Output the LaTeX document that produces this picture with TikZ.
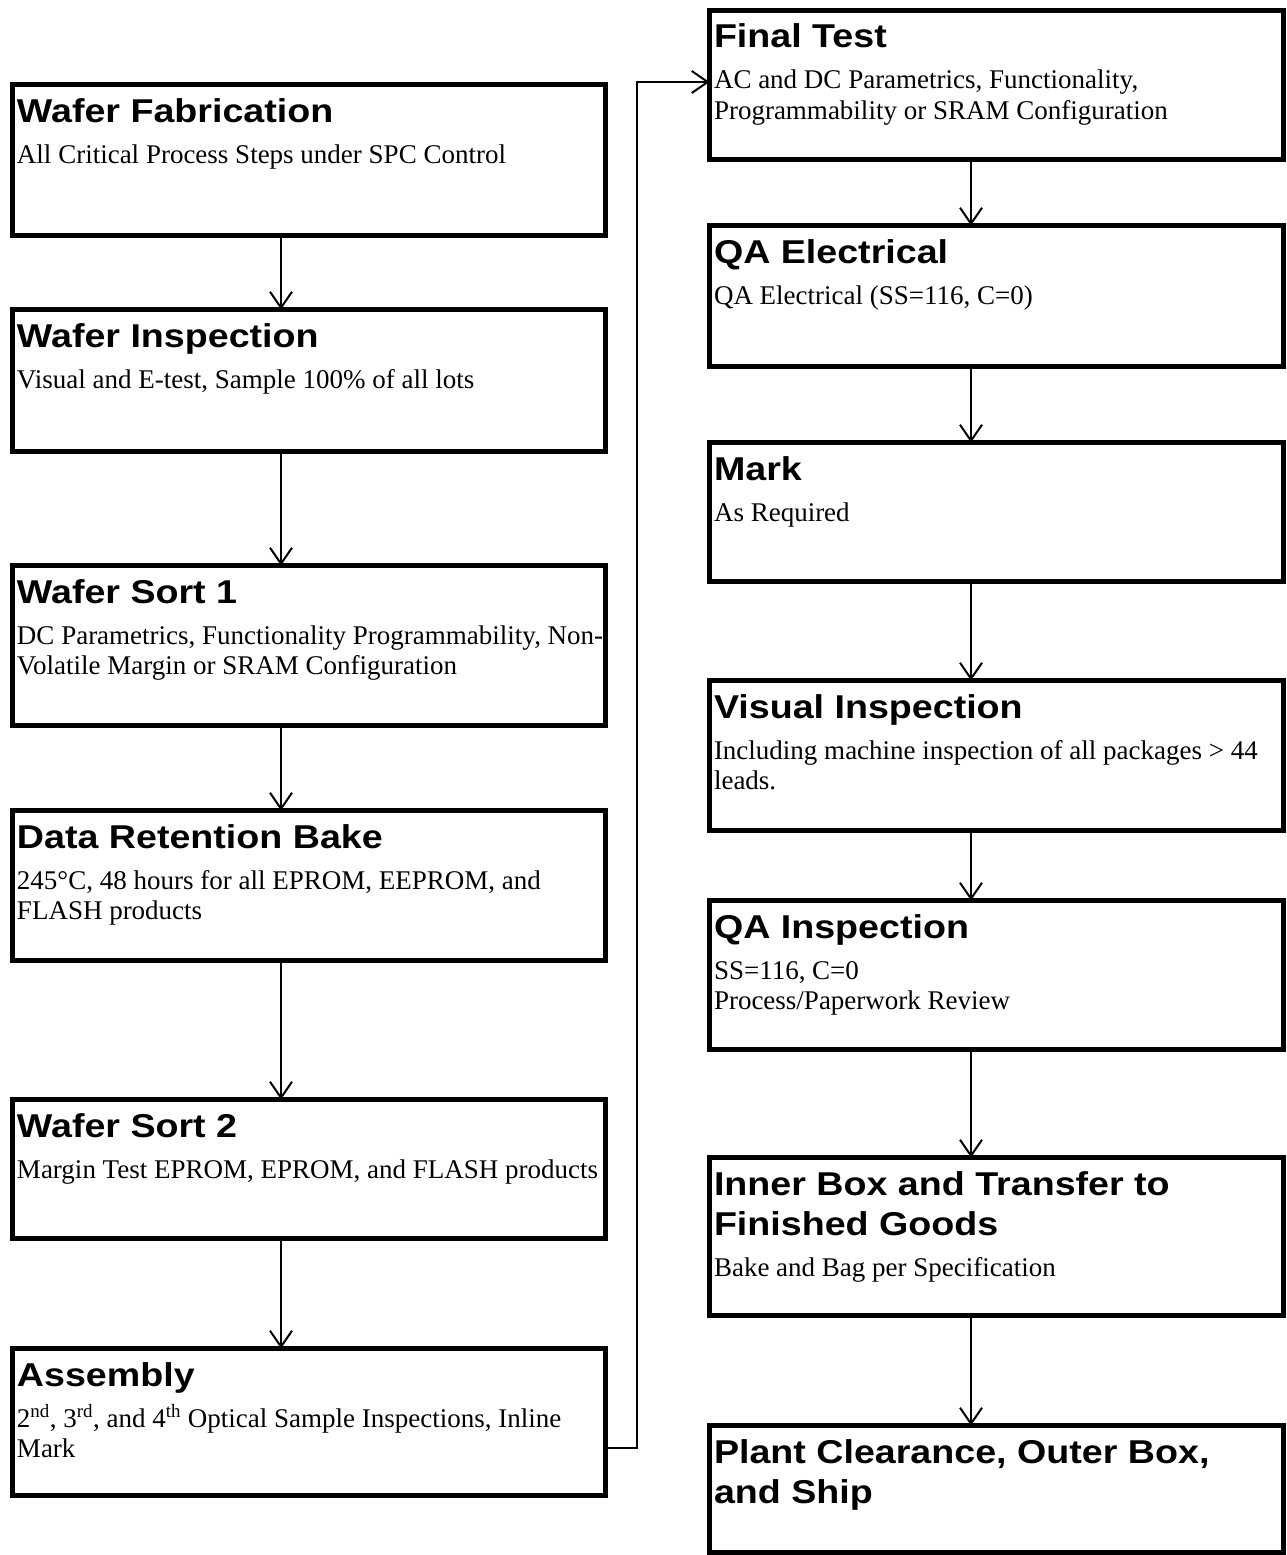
\documentclass[tikz,border=0pt]{standalone}
\usepackage{fontspec}
\setmainfont{Liberation Serif}
\newfontfamily\headfont{Liberation Sans}[FakeStretch=1.14]
\usetikzlibrary{arrows.meta}

\tikzset{
  boxst/.style={draw, line width=5pt, inner sep=0pt, outer sep=0pt, anchor=north west},
  arr/.style={line width=2pt, -{Straight Barb[length=16pt,width=22pt]}}
}

% name, x, y, w, h, heading, body
\newcommand\flowbox[7]{%
  \node[boxst] (#1) at (#2+2.5,#3+2.5) {\parbox[t][\dimexpr#5pt-5pt\relax][t]{\dimexpr#4pt-5pt\relax}{%
    \setlength{\parindent}{0pt}\setlength{\leftskip}{4.5pt}%
    {\headfont\bfseries\fontsize{33pt}{40pt}\selectfont\rule{0pt}{37.5pt}#6\par}%
    \vspace{10.5pt}%
    {\fontsize{27pt}{30.5pt}\selectfont #7\par}}};
}

\begin{document}
\begin{tikzpicture}[x=1pt,y=-1pt]
\fill[white] (0,0) rectangle (1287,1555);
\useasboundingbox (0,0) rectangle (1287,1555);

% left column
\flowbox{wf}{10}{82}{598}{156}{Wafer Fabrication}{\mbox{All Critical Process Steps under SPC Control}}
\flowbox{wi}{10}{307}{598}{147}{Wafer Inspection}{\mbox{Visual and E-test, Sample 100\% of all lots}}
\flowbox{wsa}{10}{563}{598}{165}{Wafer Sort 1}{\mbox{DC Parametrics, Functionality Programmability, Non-}\\\mbox{Volatile Margin or SRAM Configuration}}
\flowbox{drb}{10}{808}{598}{155}{Data Retention Bake}{\mbox{245°C, 48 hours for all EPROM, EEPROM, and}\\\mbox{FLASH products}}
\flowbox{wsb}{10}{1097}{598}{144}{Wafer Sort 2}{\mbox{Margin Test EPROM, EPROM, and FLASH products}}
\flowbox{asm}{10}{1346}{598}{152}{Assembly}{\mbox{2\textsuperscript{nd}, 3\textsuperscript{rd}, and 4\textsuperscript{th} Optical Sample Inspections, Inline}\\\mbox{Mark}}

% right column
\flowbox{ft}{707}{8}{579}{154}{Final Test}{\mbox{AC and DC Parametrics, Functionality,}\\\mbox{Programmability or SRAM Configuration}}
\flowbox{qae}{707}{223}{579}{146}{QA Electrical}{\mbox{QA Electrical (SS=116, C=0)}}
\flowbox{mark}{707}{440}{579}{144}{Mark}{\mbox{As Required}}
\flowbox{vi}{707}{678}{579}{155}{Visual Inspection}{\mbox{Including machine inspection of all packages > 44}\\\mbox{leads.}}
\flowbox{qai}{707}{898}{579}{154}{QA Inspection}{\mbox{SS=116, C=0}\\\mbox{Process/Paperwork Review}}
\flowbox{ib}{707}{1155}{579}{163}{Inner Box and Transfer to\\Finished Goods}{\mbox{Bake and Bag per Specification}}
\flowbox{pc}{707}{1423}{579}{132}{Plant Clearance, Outer Box,\\and Ship}{}

\coordinate (lx) at (281,0);
\coordinate (rx) at (971,0);
\coordinate (cx) at (637,0);
\coordinate (cy1) at (0,1448);
\coordinate (cy2) at (0,82);

\draw[arr] (wf.south -| lx) -- (wi.north -| lx);
\draw[arr] (wi.south -| lx) -- (wsa.north -| lx);
\draw[arr] (wsa.south -| lx) -- (drb.north -| lx);
\draw[arr] (drb.south -| lx) -- (wsb.north -| lx);
\draw[arr] (wsb.south -| lx) -- (asm.north -| lx);

\draw[arr] (ft.south -| rx) -- (qae.north -| rx);
\draw[arr] (qae.south -| rx) -- (mark.north -| rx);
\draw[arr] (mark.south -| rx) -- (vi.north -| rx);
\draw[arr] (vi.south -| rx) -- (qai.north -| rx);
\draw[arr] (qai.south -| rx) -- (ib.north -| rx);
\draw[arr] (ib.south -| rx) -- (pc.north -| rx);

\draw[arr] (asm.east |- cy1) -| (cx |- cy2) -- (ft.west |- cy2);
\end{tikzpicture}
\end{document}
